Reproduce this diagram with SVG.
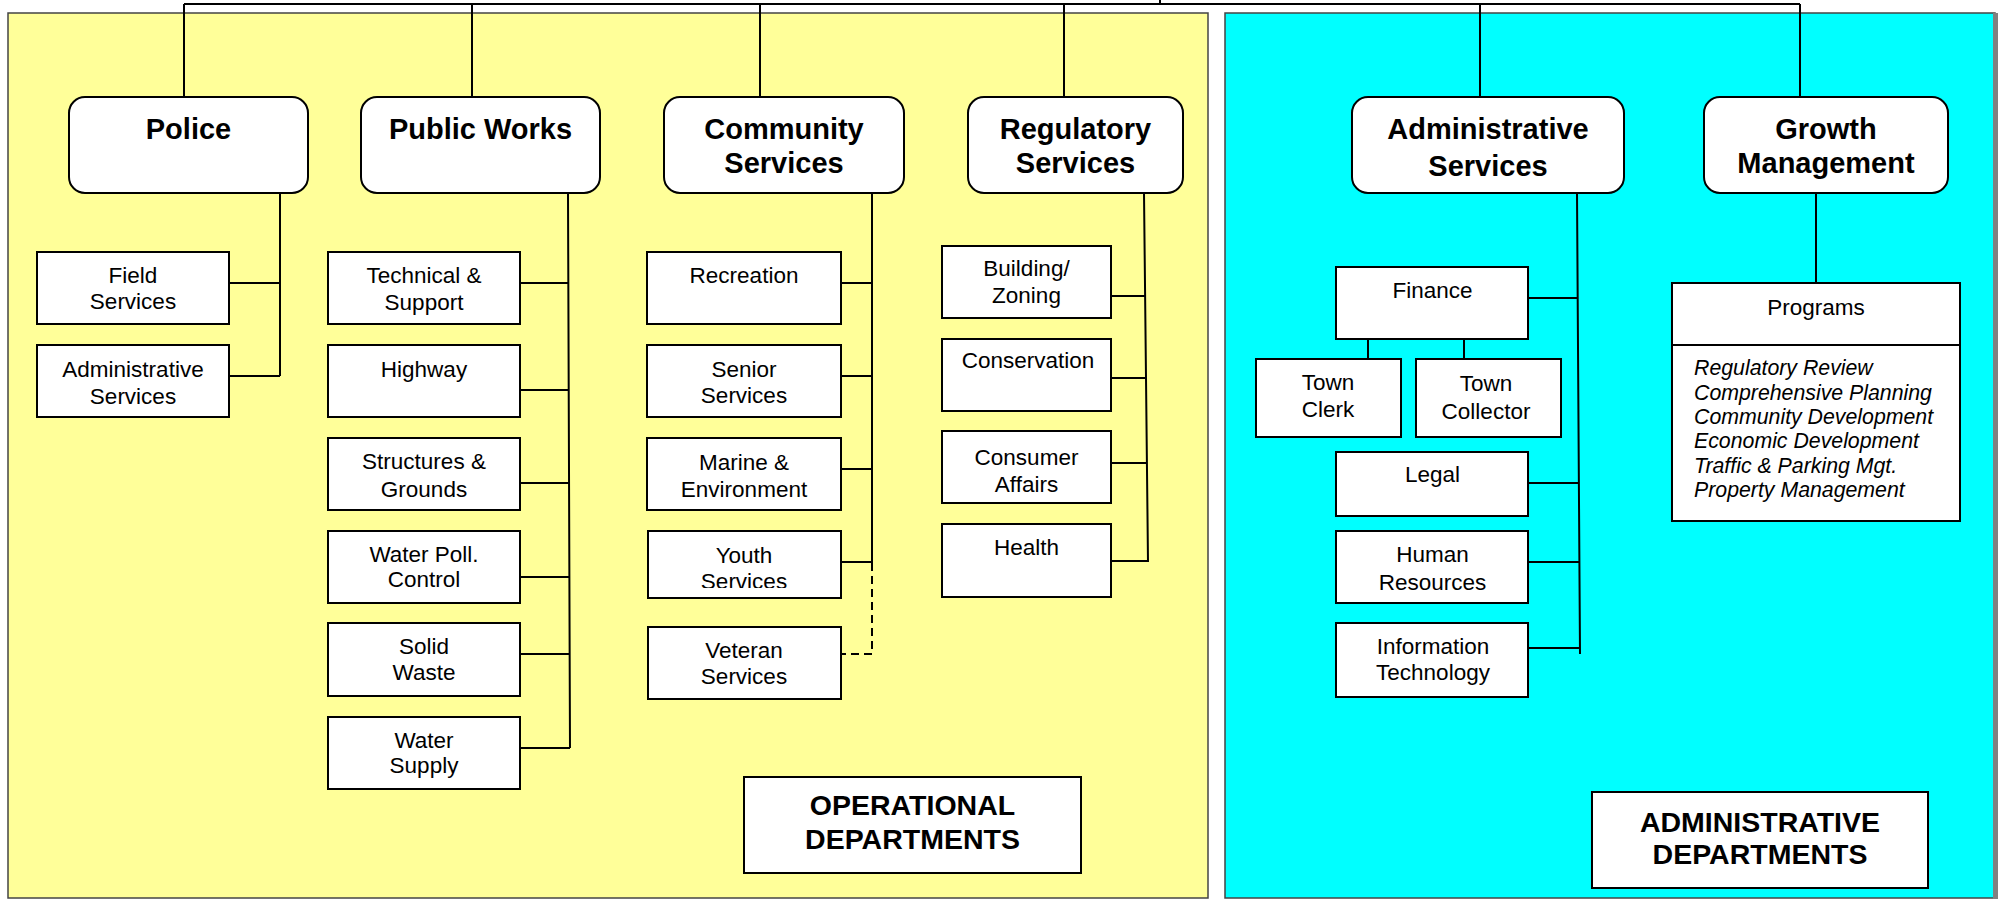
<svg xmlns="http://www.w3.org/2000/svg" width="2003" height="899" viewBox="0 0 2003 899">
<defs>
<style>
.bg{fill:#fff}
.py{fill:#FFFF99;stroke:#444;stroke-width:1.5}
.pc{fill:#00FFFF;stroke:#444;stroke-width:1.5}
.hdr{fill:#fff;stroke:#000;stroke-width:2}
.box{fill:#fff;stroke:#000;stroke-width:2}
.t{font-family:"Liberation Sans",Arial,sans-serif;font-size:22.5px;text-anchor:middle;fill:#000}
.h{font-weight:bold;font-size:29px}
.dep{font-weight:bold;font-size:28.5px}
.it{font-style:italic;font-size:21.3px;text-anchor:start}
.c{stroke:#000;stroke-width:2;fill:none}
.d{stroke:#000;stroke-width:2;fill:none;stroke-dasharray:8 5}
</style>
<clipPath id="youthClip"><rect x="648" y="531" width="193" height="57"/></clipPath>
</defs>
<rect class="bg" x="0" y="0" width="2003" height="899"/>
<g id="panels">
<rect class="py" x="8" y="13" width="1200" height="885"/>
<rect class="pc" x="1225" y="13" width="770" height="885"/>
<rect x="1993" y="13" width="5" height="886" fill="#808080"/>
</g>
<g id="connectors">
<path class="c" d="M184,4 H1800 M1160,0 V4 M184,4 V97 M472,4 V97 M760,4 V97 M1064,4 V97 M1480,4 V97 M1800,4 V97"/>
<path class="c" d="M280,193 V376 M229,283 H280 M229,376 H280"/>
<path class="c" d="M568,193 L570,748 M520,283 H568 M520,390 H569 M520,483 H569 M520,577 H570 M520,654 H570 M520,748 H570"/>
<path class="c" d="M872,193 V563 M841,283 H872 M841,376 H872 M841,469 H872 M841,562 H872"/>
<path class="d" d="M872,563 V654 H841"/>
<path class="c" d="M1144,193 L1148,562 M1111,296 H1145 M1111,378 H1146 M1111,463 H1147 M1111,561 H1148"/>
<path class="c" d="M1577,193 L1580,654 M1528,298 H1578 M1528,483 H1579 M1528,562 H1579 M1528,648 H1580 M1368,339 V358 M1464,339 V358"/>
<path class="c" d="M1816,193 V283"/>
</g>
<g id="police"><rect class="hdr" x="69" y="97" width="239" height="96" rx="16"/><text class="t h" x="188.5" y="139">Police</text></g>
<g id="public-works"><rect class="hdr" x="361" y="97" width="239" height="96" rx="16"/><text class="t h" x="480.5" y="139">Public Works</text></g>
<g id="community-services"><rect class="hdr" x="664" y="97" width="240" height="96" rx="16"/><text class="t h" x="784" y="139">Community</text><text class="t h" x="784" y="173">Services</text></g>
<g id="regulatory-services"><rect class="hdr" x="968" y="97" width="215" height="96" rx="16"/><text class="t h" x="1075.5" y="139">Regulatory</text><text class="t h" x="1075.5" y="173">Services</text></g>
<g id="administrative-services"><rect class="hdr" x="1352" y="97" width="272" height="96" rx="16"/><text class="t h" x="1488" y="139">Administrative</text><text class="t h" x="1488" y="176">Services</text></g>
<g id="growth-management"><rect class="hdr" x="1704" y="97" width="244" height="96" rx="16"/><text class="t h" x="1826" y="139">Growth</text><text class="t h" x="1826" y="173">Management</text></g>

<g id="field-services"><rect class="box" x="37" y="252" width="192" height="72"/><text class="t" x="133" y="283">Field</text><text class="t" x="133" y="309">Services</text></g>
<g id="police-admin-services"><rect class="box" x="37" y="345" width="192" height="72"/><text class="t" x="133" y="377">Administrative</text><text class="t" x="133" y="404">Services</text></g>

<g id="technical-support"><rect class="box" x="328" y="252" width="192" height="72"/><text class="t" x="424" y="283">Technical &amp;</text><text class="t" x="424" y="310">Support</text></g>
<g id="highway"><rect class="box" x="328" y="345" width="192" height="72"/><text class="t" x="424" y="377">Highway</text></g>
<g id="structures-grounds"><rect class="box" x="328" y="438" width="192" height="72"/><text class="t" x="424" y="469">Structures &amp;</text><text class="t" x="424" y="497">Grounds</text></g>
<g id="water-poll-control"><rect class="box" x="328" y="531" width="192" height="72"/><text class="t" x="424" y="562">Water Poll.</text><text class="t" x="424" y="587">Control</text></g>
<g id="solid-waste"><rect class="box" x="328" y="623" width="192" height="73"/><text class="t" x="424" y="654">Solid</text><text class="t" x="424" y="680">Waste</text></g>
<g id="water-supply"><rect class="box" x="328" y="717" width="192" height="72"/><text class="t" x="424" y="748">Water</text><text class="t" x="424" y="773">Supply</text></g>

<g id="recreation"><rect class="box" x="647" y="252" width="194" height="72"/><text class="t" x="744" y="283">Recreation</text></g>
<g id="senior-services"><rect class="box" x="647" y="345" width="194" height="72"/><text class="t" x="744" y="377">Senior</text><text class="t" x="744" y="403">Services</text></g>
<g id="marine-environment"><rect class="box" x="647" y="438" width="194" height="72"/><text class="t" x="744" y="470">Marine &amp;</text><text class="t" x="744" y="497">Environment</text></g>
<g id="youth-services"><rect class="box" x="648" y="531" width="193" height="67"/><text class="t" x="744" y="563">Youth</text><text class="t" x="744" y="589" clip-path="url(#youthClip)">Services</text></g>
<g id="veteran-services"><rect class="box" x="648" y="627" width="193" height="72"/><text class="t" x="744" y="658">Veteran</text><text class="t" x="744" y="684">Services</text></g>

<g id="building-zoning"><rect class="box" x="942" y="246" width="169" height="72"/><text class="t" x="1026.5" y="276">Building/</text><text class="t" x="1026.5" y="303">Zoning</text></g>
<g id="conservation"><rect class="box" x="942" y="339" width="169" height="72"/><text class="t" x="1028" y="368">Conservation</text></g>
<g id="consumer-affairs"><rect class="box" x="942" y="431" width="169" height="72"/><text class="t" x="1026.5" y="465">Consumer</text><text class="t" x="1026.5" y="492">Affairs</text></g>
<g id="health"><rect class="box" x="942" y="524" width="169" height="73"/><text class="t" x="1026.5" y="555">Health</text></g>

<g id="finance"><rect class="box" x="1336" y="267" width="192" height="72"/><text class="t" x="1432.5" y="298">Finance</text></g>
<g id="town-clerk"><rect class="box" x="1256" y="359" width="145" height="78"/><text class="t" x="1328" y="390">Town</text><text class="t" x="1328" y="417">Clerk</text></g>
<g id="town-collector"><rect class="box" x="1416" y="359" width="145" height="78"/><text class="t" x="1486" y="391">Town</text><text class="t" x="1486" y="419">Collector</text></g>
<g id="legal"><rect class="box" x="1336" y="452" width="192" height="64"/><text class="t" x="1432.5" y="482">Legal</text></g>
<g id="human-resources"><rect class="box" x="1336" y="531" width="192" height="72"/><text class="t" x="1432.5" y="562">Human</text><text class="t" x="1432.5" y="590">Resources</text></g>
<g id="information-technology"><rect class="box" x="1336" y="623" width="192" height="74"/><text class="t" x="1433" y="654">Information</text><text class="t" x="1433" y="680">Technology</text></g>

<g id="programs"><rect class="box" x="1672" y="283" width="288" height="238"/><line class="c" x1="1672" y1="345" x2="1960" y2="345"/><text class="t" x="1816" y="315">Programs</text>
<text class="t it" x="1694" y="375">Regulatory Review</text>
<text class="t it" x="1694" y="400">Comprehensive Planning</text>
<text class="t it" x="1694" y="424">Community Development</text>
<text class="t it" x="1694" y="448">Economic Development</text>
<text class="t it" x="1694" y="473">Traffic &amp; Parking Mgt.</text>
<text class="t it" x="1694" y="497">Property Management</text>
</g>

<g id="operational-departments"><rect class="box" x="744" y="777" width="337" height="96"/><text class="t dep" x="912.5" y="815">OPERATIONAL</text><text class="t dep" x="912.5" y="849">DEPARTMENTS</text></g>
<g id="administrative-departments"><rect class="box" x="1592" y="792" width="336" height="96"/><text class="t dep" x="1760" y="832">ADMINISTRATIVE</text><text class="t dep" x="1760" y="864">DEPARTMENTS</text></g>
</svg>
